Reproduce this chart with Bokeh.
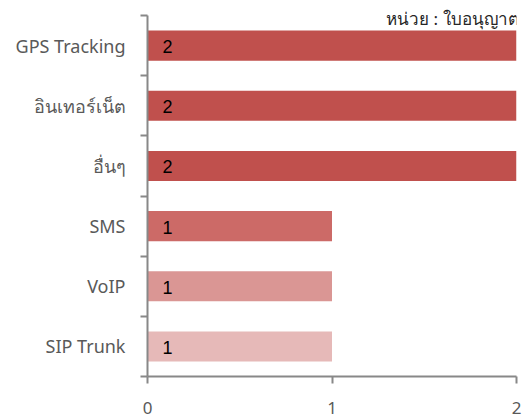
from bokeh.plotting import figure
from bokeh.models import ColumnDataSource, FixedTicker, Label, Range1d
from bokeh.core.properties import value
from bokeh.embed import file_html
from bokeh.resources import INLINE

categories = ["SIP Trunk", "VoIP", "SMS", "อื่นๆ", "อินเทอร์เน็ต", "GPS Tracking"]
values = [1, 1, 1, 2, 2, 2]
colors = ["#E6B9B8", "#DA9694", "#CC6A67", "#C0504D", "#C0504D", "#C0504D"]
x_ticks = [0, 1, 2]
unit_text = "หน่วย : ใบอนุญาต"

n = len(categories)
pos = list(range(n))
src = ColumnDataSource(dict(y=pos, v=values, c=colors, t=[str(v) for v in values], x0=[0]*n))

# frame spans canvas top (0) to axis (376); categories occupy 15..376
top_pad_px = 15
frame_h = 376
units_per_px = n / (frame_h - top_pad_px)
y_top = n - 0.5 + top_pad_px * units_per_px

p = figure(width=522, height=419, output_backend="svg", toolbar_location=None,
           x_range=Range1d(0, 2), y_range=Range1d(-0.5, y_top),
           min_border_left=147, min_border_right=6, min_border_top=0, min_border_bottom=43)
p.outline_line_color = None
p.xgrid.visible = False
p.ygrid.visible = False
p.background_fill_color = "white"

p.hbar(y="y", left=0, right="v", height=0.5, fill_color="c", line_color=None, source=src)
p.text(x="x0", y="y", text="t", source=src, x_offset=15, y_offset=1, text_align="left", text_baseline="middle",
       text_font=value("Liberation Sans"), text_font_size="18px", text_color="black")

axis_color = "#888888"
label_font = "Noto Sans"

p.yaxis.bounds = (-0.5, n - 0.5)
p.yaxis.ticker = FixedTicker(ticks=pos, minor_ticks=[i - 0.5 for i in range(n + 1)])
p.yaxis.major_label_overrides = {i: c for i, c in enumerate(categories)}
p.yaxis.major_tick_out = 0
p.yaxis.major_tick_in = 0
p.yaxis.minor_tick_out = 7
p.yaxis.minor_tick_in = 0
p.yaxis.minor_tick_line_color = axis_color
p.yaxis.minor_tick_line_width = 2
p.yaxis.axis_line_color = axis_color
p.yaxis.axis_line_width = 2
p.yaxis.major_label_standoff = 15
p.yaxis.major_label_text_font = label_font
p.yaxis.major_label_text_font_size = "18px"
p.yaxis.major_label_text_color = "#595959"

p.xaxis.ticker = FixedTicker(ticks=x_ticks, minor_ticks=[])
p.xaxis.major_tick_out = 7
p.xaxis.major_tick_in = 0
p.xaxis.major_tick_line_color = axis_color
p.xaxis.major_tick_line_width = 2
p.xaxis.axis_line_color = axis_color
p.xaxis.axis_line_width = 2
p.xaxis.major_label_standoff = 18
p.xaxis.major_label_text_font = label_font
p.xaxis.major_label_text_font_size = "17px"
p.xaxis.major_label_text_color = "#595959"

p.add_layout(Label(x=2, y=n - 0.5, text=unit_text, text_align="right", text_baseline="top",
                   x_offset=2, y_offset=9, text_font=label_font, text_font_size="17px", text_color="#262626"))

open("out.html", "w").write(file_html(p, INLINE))
